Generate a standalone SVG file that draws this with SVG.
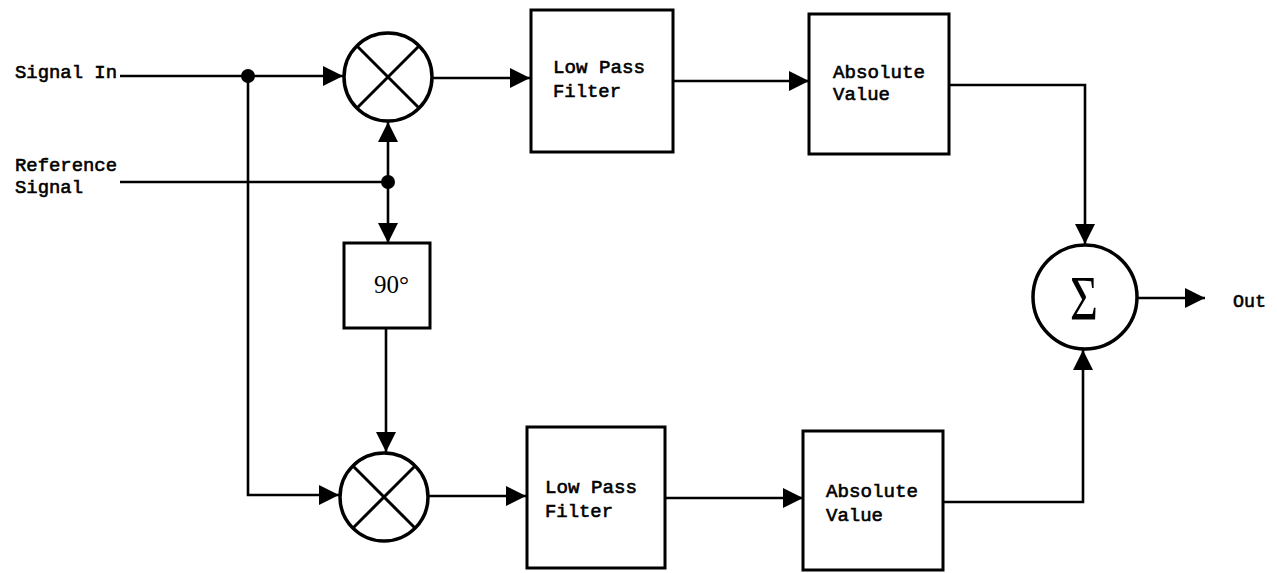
<svg xmlns="http://www.w3.org/2000/svg" width="1277" height="573" viewBox="0 0 1277 573">
<style>
  .box { fill: #fff; stroke: #000; stroke-width: 3; }
  .circ { fill: #fff; stroke: #000; stroke-width: 3.5; }
  .xl { stroke: #000; stroke-width: 3; }
  .wire { fill: none; stroke: #000; stroke-width: 2.6; }
  .lbl { font-family: "Liberation Mono", "Courier New", monospace; font-size: 19px; font-weight: normal; fill: #000; stroke: #000; stroke-width: 0.6; }
</style>
<defs>
  <marker id="arr" viewBox="0 0 20 20" refX="20" refY="10" markerWidth="20" markerHeight="20" markerUnits="userSpaceOnUse" orient="auto">
    <path d="M0,0 L20,10 L0,20 z" fill="#000"/>
  </marker>
</defs>
<rect width="1277" height="573" fill="#fff"/>
<g id="connectors">
  <path class="wire" d="M120,76 H343" marker-end="url(#arr)"/>
  <path class="wire" d="M248,76 V495 H339" marker-end="url(#arr)"/>
  <path class="wire" d="M120,182 H388"/>
  <path class="wire" d="M388,182 V122" marker-end="url(#arr)"/>
  <path class="wire" d="M388,182 V243" marker-end="url(#arr)"/>
  <path class="wire" d="M386,328 V452" marker-end="url(#arr)"/>
  <path class="wire" d="M432,78 H530" marker-end="url(#arr)"/>
  <path class="wire" d="M673,81 H809" marker-end="url(#arr)"/>
  <path class="wire" d="M949,85 H1085 V244" marker-end="url(#arr)"/>
  <path class="wire" d="M428,496 H526" marker-end="url(#arr)"/>
  <path class="wire" d="M665,498 H803" marker-end="url(#arr)"/>
  <path class="wire" d="M943,502 H1083 V350" marker-end="url(#arr)"/>
  <path class="wire" d="M1137,298 H1205" marker-end="url(#arr)"/>
  <circle cx="248" cy="76" r="7" fill="#000"/>
  <circle cx="388" cy="182" r="7" fill="#000"/>
</g>
<g id="label-signal-in">
  <text class="lbl" x="15" y="78" textLength="102" lengthAdjust="spacingAndGlyphs">Signal In</text>
</g>
<g id="label-reference">
  <text class="lbl" x="15" y="171" textLength="102" lengthAdjust="spacingAndGlyphs">Reference</text>
  <text class="lbl" x="15" y="193" textLength="68" lengthAdjust="spacingAndGlyphs">Signal</text>
</g>
<g id="mixer1">
  <circle class="circ" cx="388" cy="77" r="44"/>
  <line class="xl" x1="357" y1="46" x2="419" y2="108"/>
  <line class="xl" x1="419" y1="46" x2="357" y2="108"/>
</g>
<g id="phase90">
  <rect class="box" x="344" y="243" width="86" height="85"/>
  <text x="374" y="293" font-family="Liberation Serif, serif" font-size="25">90°</text>
</g>
<g id="mixer2">
  <circle class="circ" cx="384" cy="497" r="44"/>
  <line class="xl" x1="353" y1="466" x2="415" y2="528"/>
  <line class="xl" x1="415" y1="466" x2="353" y2="528"/>
</g>
<g id="lpf1">
  <rect class="box" x="531" y="10" width="142" height="142"/>
  <text class="lbl" x="553" y="73" textLength="92" lengthAdjust="spacingAndGlyphs">Low Pass</text>
  <text class="lbl" x="553" y="97" textLength="68" lengthAdjust="spacingAndGlyphs">Filter</text>
</g>
<g id="abs1">
  <rect class="box" x="809" y="14" width="140" height="140"/>
  <text class="lbl" x="833" y="78" textLength="92" lengthAdjust="spacingAndGlyphs">Absolute</text>
  <text class="lbl" x="833" y="100" textLength="57" lengthAdjust="spacingAndGlyphs">Value</text>
</g>
<g id="lpf2">
  <rect class="box" x="527" y="427" width="138" height="141"/>
  <text class="lbl" x="545" y="493" textLength="92" lengthAdjust="spacingAndGlyphs">Low Pass</text>
  <text class="lbl" x="545" y="517" textLength="68" lengthAdjust="spacingAndGlyphs">Filter</text>
</g>
<g id="abs2">
  <rect class="box" x="803" y="431" width="140" height="139"/>
  <text class="lbl" x="826" y="497" textLength="92" lengthAdjust="spacingAndGlyphs">Absolute</text>
  <text class="lbl" x="826" y="521" textLength="57" lengthAdjust="spacingAndGlyphs">Value</text>
</g>
<g id="sum">
  <circle class="circ" cx="1085" cy="297" r="52"/>
  <text x="1084" y="320" text-anchor="middle" font-family="Liberation Serif, serif" font-size="64" transform="translate(1084 0) scale(0.75 1) translate(-1084 0)">Σ</text>
</g>
<g id="label-out">
  <text class="lbl" x="1233" y="307" textLength="33" lengthAdjust="spacingAndGlyphs">Out</text>
</g>
</svg>
